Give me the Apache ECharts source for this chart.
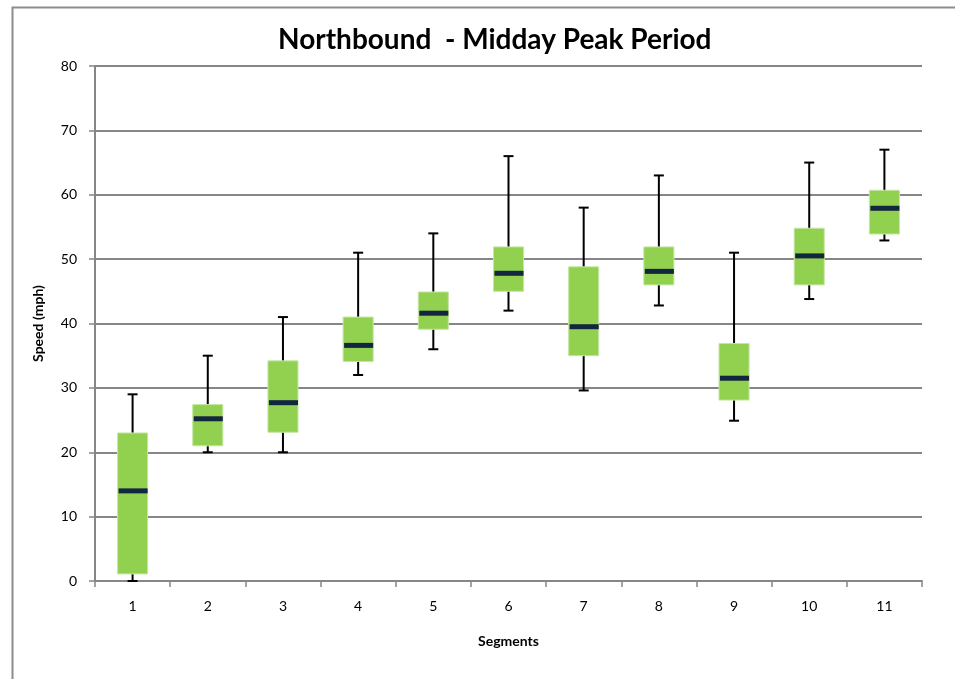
<!DOCTYPE html>
<html>
<head>
<meta charset="utf-8">
<script src="https://cdn.jsdelivr.net/npm/echarts@6/dist/echarts.min.js"></script>
<style>html,body{margin:0;padding:0;background:#fff;}#c{width:955px;height:679px;}</style>
</head>
<body>
<div id="c"></div>
<script>
const categories = ['1','2','3','4','5','6','7','8','9','10','11'];
const mins    = [0,    20,   20,   32,   36,   42,   29.6, 42.8, 24.9, 43.8, 52.9];
const q1      = [1.1,  21.0, 23.1, 34.1, 39.1, 45.0, 35.0, 46.0, 28.1, 46.0, 53.9];
const medians = [14.0, 25.2, 27.7, 36.6, 41.6, 47.8, 39.5, 48.1, 31.5, 50.5, 57.9];
const q3      = [23.0, 27.4, 34.2, 41.0, 44.9, 51.9, 48.8, 51.9, 36.9, 54.8, 60.7];
const maxs    = [29,   35,   41,   51,   54,   66,   58,   63,   51,   65,   67];

const data = categories.map((c, i) => [i, mins[i], q1[i], medians[i], q3[i], maxs[i]]);

const chart = echarts.init(document.getElementById('c'), null, {renderer: 'canvas'});
const FONT = 'Lato';
chart.setOption({
  animation: false,
  title: {
    text: 'Northbound  - Midday Peak Period',
    left: 273, top: 21,
    textStyle: {fontFamily: FONT, fontWeight: 'bold', fontSize: 28, color: '#000'}
  },
  graphic: [{
    type: 'rect', left: 10, top: 5, z: -1,
    shape: {width: 1000, height: 720},
    style: {fill: 'none', stroke: '#8c8c8c', lineWidth: 2}
  }],
  grid: {left: 95, right: 33, top: 66, bottom: 98},
  xAxis: {
    type: 'category', data: categories, boundaryGap: true,
    name: 'Segments', nameLocation: 'middle', nameGap: 53,
    nameTextStyle: {fontFamily: FONT, fontWeight: 'bold', fontSize: 14, color: '#000'},
    axisLine: {lineStyle: {color: '#868686', width: 2}},
    axisTick: {show: true, length: 6, lineStyle: {color: '#868686', width: 1.5}},
    axisLabel: {fontFamily: FONT, fontSize: 14, color: '#000', margin: 18},
    splitLine: {show: false}
  },
  yAxis: {
    type: 'value', min: 0, max: 80, interval: 10,
    name: 'Speed (mph)', nameLocation: 'middle', nameGap: 50,
    nameTextStyle: {fontFamily: FONT, fontWeight: 'bold', fontSize: 14, color: '#000'},
    axisLine: {show: true, lineStyle: {color: '#868686', width: 2}},
    axisTick: {show: true, length: 6, lineStyle: {color: '#868686', width: 1.5}},
    axisLabel: {fontFamily: FONT, fontSize: 14, color: '#000', margin: 18},
    splitLine: {show: true, lineStyle: {color: '#868686', width: 2}}
  },
  series: [{
    type: 'custom',
    data: data,
    encode: {x: 0, y: [1, 2, 3, 4, 5]},
    renderItem: function (params, api) {
      const idx = api.value(0);
      const pMin = api.coord([idx, api.value(1)]);
      const pQ1 = api.coord([idx, api.value(2)]);
      const pMed = api.coord([idx, api.value(3)]);
      const pQ3 = api.coord([idx, api.value(4)]);
      const pMax = api.coord([idx, api.value(5)]);
      const band = api.size([1, 0])[0];
      const bw = band * 0.4;
      const cw = 10;
      const x = pMed[0];
      return {
        type: 'group',
        children: [
          {type: 'line', shape: {x1: x, y1: pMin[1], x2: x, y2: pMax[1]}, style: {stroke: '#000', lineWidth: 2}},
          {type: 'line', shape: {x1: x - cw / 2, y1: pMax[1], x2: x + cw / 2, y2: pMax[1]}, style: {stroke: '#000', lineWidth: 2}},
          {type: 'line', shape: {x1: x - cw / 2, y1: pMin[1], x2: x + cw / 2, y2: pMin[1]}, style: {stroke: '#000', lineWidth: 2}},
          {type: 'rect', shape: {x: x - bw / 2, y: pQ3[1], width: bw, height: pQ1[1] - pQ3[1]}, style: {fill: '#92d050', stroke: '#c6e7a4', lineWidth: 1}},
          {type: 'line', shape: {x1: x - bw / 2 + 1, y1: pMed[1], x2: x + bw / 2, y2: pMed[1]}, style: {stroke: '#12263f', lineWidth: 5}}
        ]
      };
    }
  }]
});
</script>
</body>
</html>
